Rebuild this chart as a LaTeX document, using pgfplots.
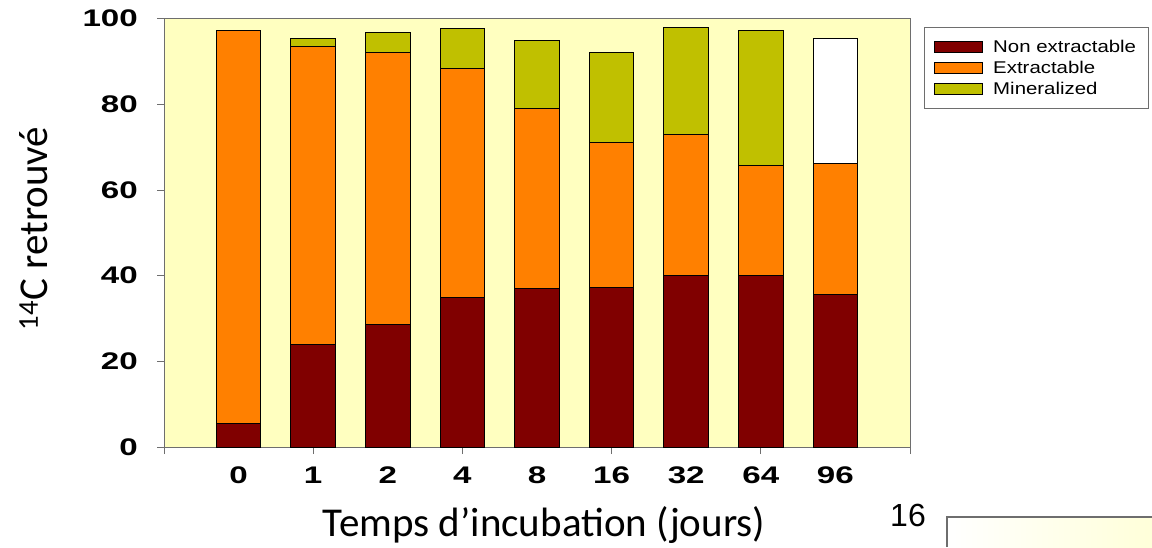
\documentclass[border=0pt]{standalone}
\usepackage{pgfplots}
\pgfplotsset{compat=1.18}
\usepackage{fontspec}
\setmainfont{Liberation Sans}
\newfontfamily\calibri{Carlito}
\newfontfamily\tickfont[FakeStretch=1.38]{Liberation Sans}
\newfontfamily\legfont[FakeStretch=1.2]{Liberation Sans}
\definecolor{nonext}{RGB}{128,0,0}
\definecolor{ext}{RGB}{255,128,0}
\definecolor{miner}{RGB}{192,192,0}
\definecolor{bgy}{RGB}{255,255,192}
\definecolor{axgray}{RGB}{110,110,110}
\begin{document}
\begin{tikzpicture}[x=1pt,y=1pt]
\path[use as bounding box] (0,0) rectangle (1152,547);
\begin{axis}[
 at={(164pt,100pt)}, anchor=south west,
 scale only axis, width=746pt, height=428.3pt,
 ybar stacked, bar width=44.5pt,
 xmin=0, xmax=10, ymin=0, ymax=100,
 axis background/.style={fill=bgy},
 axis line style={draw=axgray, line width=1pt},
 tick style={draw=axgray, line width=1pt},
 tick align=outside, major tick length=7pt,
 xtick pos=left, ytick pos=left,
 ytick={0,20,...,100},
 xtick={0,2,...,10}, xticklabels={},
 extra x ticks={1,...,9},
 extra x tick labels={0,1,2,4,8,16,32,64,96},
 extra x tick style={major tick length=0pt, xticklabel style={anchor=base, inner sep=0pt, yshift=-36pt}},
 /pgf/number format/assume math mode=true,
 ticklabel style={font=\tickfont\bfseries\fontsize{24}{24}\selectfont},
 yticklabel style={anchor=east, inner sep=0pt, xshift=-19pt},
 ylabel={\textsuperscript{14}C retrouvé},
 xlabel={Temps d’incubation (jours)},
 ylabel style={at={(rel axis cs:-0.1568,0.510)}, anchor=base, rotate=0, inner sep=0pt, font=\calibri\fontsize{41}{41}\selectfont},
 xlabel style={at={(rel axis cs:0.5094,-0.2101)}, anchor=base, inner sep=0pt, font=\calibri\fontsize{41}{41}\selectfont},
 legend style={at={(1.0188,0.9806)}, anchor=north west, draw=axgray, line width=0.8pt, fill=white,
   font=\legfont\fontsize{17}{17}\selectfont, inner xsep=10pt, inner ysep=11pt,
   row sep=3pt, nodes={inner sep=2pt},
   /tikz/every odd column/.style={column sep=8pt}},
 legend cell align=left,
 every axis plot/.append style={draw=black, line width=1pt},
]
\addplot[fill=nonext, legend image code/.code={\draw[fill=nonext,draw=black,line width=0.8pt] (0pt,-5.5pt) rectangle (48pt,5.5pt);}]
 coordinates {(1,5.4) (2,24.0) (3,28.6) (4,35.0) (5,37.1) (6,37.2) (7,40.0) (8,40.0) (9,35.5)};
\addlegendentry{Non extractable}
\addplot[fill=ext, legend image code/.code={\draw[fill=ext,draw=black,line width=0.8pt] (0pt,-5.5pt) rectangle (48pt,5.5pt);}]
 coordinates {(1,91.8) (2,69.5) (3,63.6) (4,53.3) (5,42.0) (6,33.9) (7,33.0) (8,25.8) (9,30.7)};
\addlegendentry{Extractable}
\addplot[fill=miner, legend image code/.code={\draw[fill=miner,draw=black,line width=0.8pt] (0pt,-5.5pt) rectangle (48pt,5.5pt);}]
 coordinates {(1,0) (2,1.8) (3,4.5) (4,9.4) (5,15.9) (6,21.0) (7,25.0) (8,31.5) (9,0)};
\addlegendentry{Mineralized}
\addplot[fill=white, forget plot]
 coordinates {(1,0) (2,0) (3,0) (4,0) (5,0) (6,0) (7,0) (8,0) (9,29.1)};
\end{axis}
\node[font=\fontsize{32}{32}\selectfont, anchor=center] at (908,32) {16};
\shade[left color=white, right color=bgy!60!white] (947,0) rectangle (1152,30);
\draw[axgray, line width=1.2pt] (947,0) -- (947,30) -- (1152,30);
\end{tikzpicture}
\end{document}
